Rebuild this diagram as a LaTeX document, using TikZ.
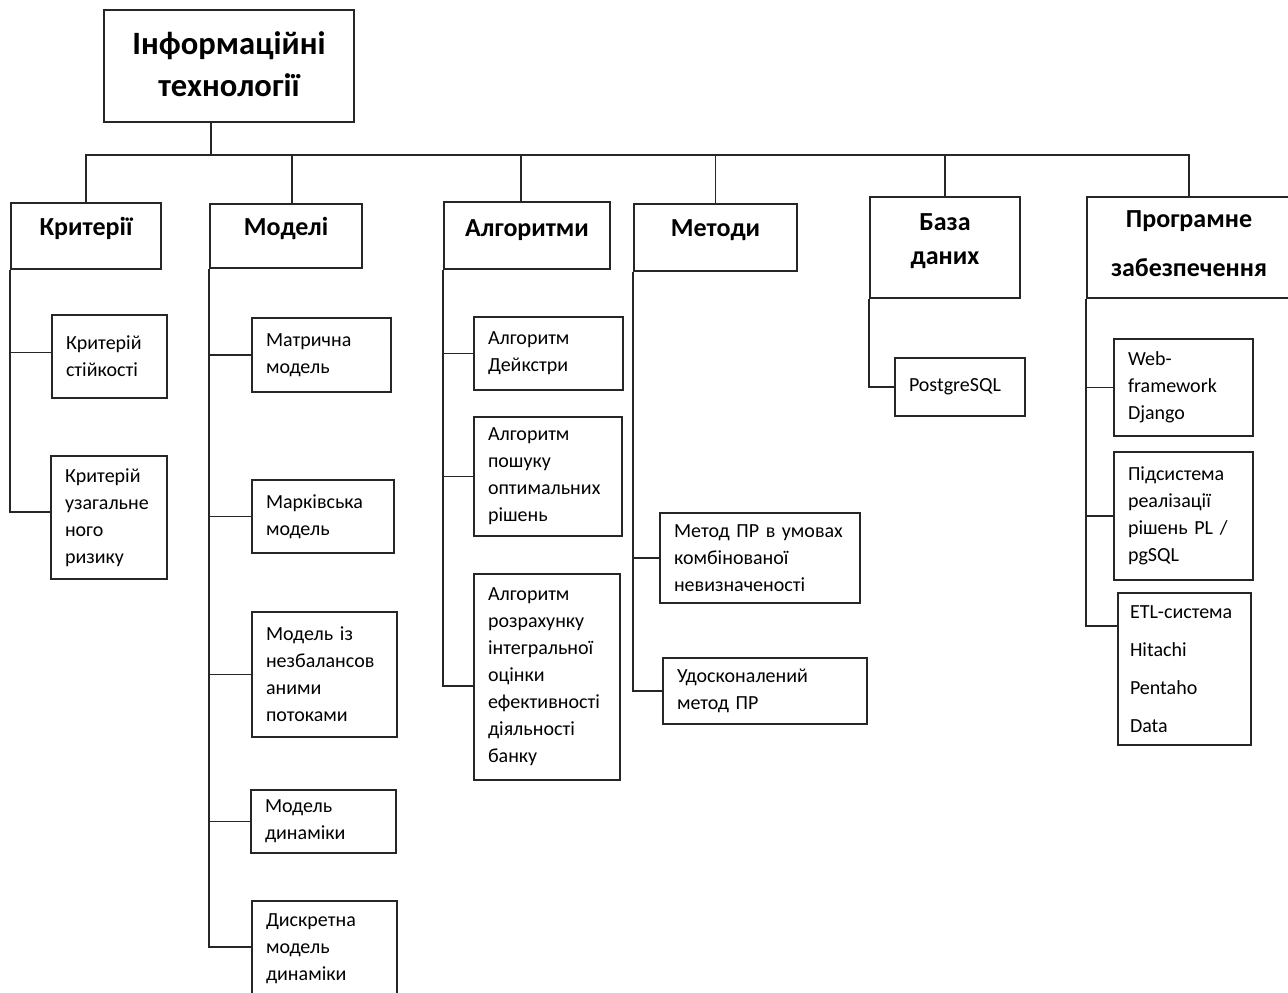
\documentclass[tikz,border=0pt]{standalone}
\usepackage{fontspec}
\setmainfont{Carlito}
\usepackage{tikz}

\begin{document}
\begin{tikzpicture}[x=0.5pt,y=-0.5pt]
          \tikzset{
            root/.style={draw=black!85, line width=0.9pt, inner sep=2pt, align=center,
              font=\fontsize{16.3}{19.5}\selectfont\bfseries},
            head/.style={draw=black!85, line width=0.9pt, inner sep=2pt, align=center,
              text height=9pt, text depth=10pt, font=\fontsize{13}{15.6}\selectfont\bfseries},
            leaf/.style={draw=black!85, line width=0.9pt, inner xsep=7pt, inner ysep=2pt,
              align=left, font=\fontsize{10}{13.5}\selectfont},
            link/.style={draw=black!85, line width=0.9pt}
          }
          \useasboundingbox (0,0) rectangle (1288,992);
          \clip (0,0) rectangle (1288,992);
          % vertices
          \node[root, minimum width=125pt, minimum height=56pt, text height=32.1pt, text depth=2pt] (it) at (229,66) {Інформаційні\\[1.5pt]технології};
          \node[head, minimum width=75pt, minimum height=33pt] (krit) at (86,236) {Критерії};
          \node[head, minimum width=76pt, minimum height=32pt] (mod) at (286,236) {Моделі};
          \node[head, minimum width=83pt, minimum height=33.5pt, text depth=8.5pt] (alg) at (527,235.5) {Алгоритми};
          \node[head, minimum width=81.5pt, minimum height=33.5pt] (met) at (715.5,237.5) {Методи};
          \node[head, minimum width=75pt, minimum height=50.5pt, text height=19.6pt, text depth=3pt] (bd) at (945,247.5) {База\\[1.4pt]даних};
          \node[head, minimum width=102pt, minimum height=50.5pt, text height=30.6pt, text depth=2pt] (pz) at (1189,247.5) {Програмне\\[8.9pt]забезпечення};

          \node[leaf, text width=43.5pt, minimum height=41.5pt] (krit1) at (109.5,356.5) {Критерій\\стійкості};
          \node[leaf, text width=44pt, minimum height=61.5pt] (krit2) at (109,517.5) {Критерій\\узагальне\\ного\\ризику};

          \node[leaf, text width=55.5pt, minimum height=37pt] (mod1) at (321.5,355) {Матрична\\модель};
          \node[leaf, text width=57pt, minimum height=36.5pt] (mod2) at (323,516.5) {Марківська\\модель};
          \node[leaf, text width=58.5pt, minimum height=62.5pt] (mod3) at (324.5,674.5) {Модель із\\незбалансов\\аними\\потоками};
          \node[leaf, text width=58.5pt, minimum height=31.5pt] (mod4) at (323.5,821.5) {Модель\\динаміки};
          \node[leaf, text width=58.5pt, minimum height=48pt] (mod5) at (324.5,949) {Дискретна\\модель\\динаміки};

          \node[leaf, text width=60.5pt, minimum height=36.5pt] (alg1) at (548.5,353.5) {Алгоритм\\Дейкстри};
          \node[leaf, text width=60pt, minimum height=59.5pt] (alg2) at (548,476.5) {Алгоритм\\пошуку\\оптимальних\\рішень};
          \node[leaf, text width=59pt, minimum height=103pt] (alg3) at (547,677) {Алгоритм\\розрахунку\\інтегральної\\оцінки\\ефективності\\діяльності\\банку};

          \node[leaf, text width=86pt, minimum height=45pt] (met1) at (760,558) {Метод~ПР~в~умовах\\комбінованої\\невизначеності};
          \node[leaf, text width=88pt, minimum height=33pt] (met2) at (765,691) {Удосконалений\\метод~ПР};

          \node[leaf, text width=51pt, minimum height=29pt] (bd1) at (960,387) {PostgreSQL};

          \node[leaf, text width=55.5pt, minimum height=48.5pt] (pz1) at (1183.5,387.5) {Web-\\framework\\Django};
          \node[leaf, text width=55.5pt, minimum height=64pt] (pz2) at (1183.5,516) {Підсистема\\реалізації\\рішень~PL~/\\pgSQL};
          \node[leaf, text width=54.5pt, minimum height=76pt, inner xsep=6pt,
                font=\fontsize{10}{19}\selectfont] (pz3) at (1184.5,669) {ETL-система\\Hitachi\\Pentaho\\Data};

          %edges
          \coordinate (hub) at (211,155);
          \draw[link] (it.south -| hub) -- (hub);
          \draw[link] (krit.north) |- (hub);
          \draw[link] ([xshift=3pt]mod.north) |- (hub);
          \draw[link] ([xshift=-3pt]alg.north) |- (hub);
          \draw[link] (met.north) |- (hub);
          \draw[link] (bd.north) |- (hub);
          \draw[link] (pz.north) |- (hub);

          \draw[link] (krit.south west) |- ([yshift=2pt]krit1.west);
          \draw[link] (krit.south west) |- ([yshift=2.75pt]krit2.west);
          \draw[link] (mod.south west) |- (mod1.west);
          \draw[link] (mod.south west) |- (mod2.west);
          \draw[link] (mod.south west) |- (mod3.west);
          \draw[link] (mod.south west) |- (mod4.west);
          \draw[link] (mod.south west) |- ([yshift=1pt]mod5.west);
          \draw[link] (alg.south west) |- (alg1.west);
          \draw[link] (alg.south west) |- (alg2.west);
          \draw[link] (alg.south west) |- ([yshift=-4.5pt]alg3.west);
          \draw[link] (met.south west) |- (met1.west);
          \draw[link] (met.south west) |- (met2.west);
          \draw[link] (bd.south west) |- (bd1.west);
          \draw[link] (pz.south west) |- (pz1.west);
          \draw[link] (pz.south west) |- (pz2.west);
          \draw[link] (pz.south west) |- ([yshift=21.5pt]pz3.west);
        \end{tikzpicture}
\end{document}
